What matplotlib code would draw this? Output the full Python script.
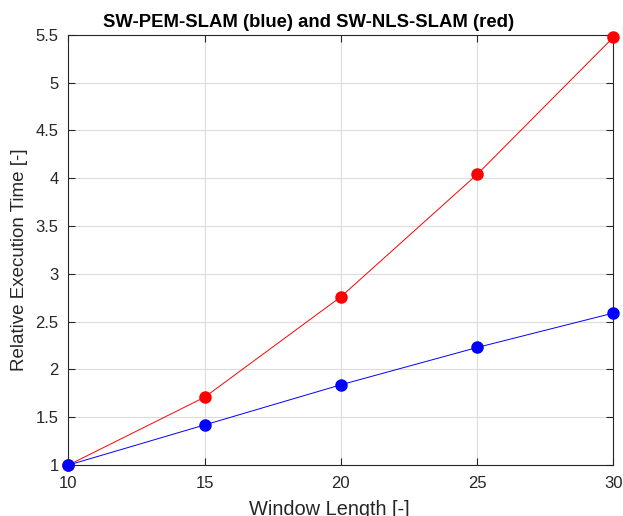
import matplotlib
matplotlib.use("Agg")
import matplotlib.pyplot as plt

window_length = [10, 15, 20, 25, 30]
pem_time = [1.0, 1.42, 1.84, 2.23, 2.59]
nls_time = [1.0, 1.71, 2.76, 4.04, 5.475]
x_ticks = [10, 15, 20, 25, 30]
y_ticks = [1, 1.5, 2, 2.5, 3, 3.5, 4, 4.5, 5, 5.5]
y_ticklabels = ["1", "1.5", "2", "2.5", "3", "3.5", "4", "4.5", "5", "5.5"]

plt.rcParams['font.family'] = ['Liberation Sans', 'DejaVu Sans']

fig = plt.figure(figsize=(6.23, 5.16), dpi=100)
ax = fig.add_axes([0.1096, 0.0986, 0.8751, 0.8341])

ax.plot(window_length, nls_time, '-o', color='red', lw=0.7, ms=8, clip_on=False, zorder=3)
ax.plot(window_length, pem_time, '-o', color='blue', lw=0.7, ms=8, clip_on=False, zorder=4)

ax.set_xlim(10, 30)
ax.set_ylim(1, 5.5)
ax.set_xticks(x_ticks)
ax.set_yticks(y_ticks)
ax.set_yticklabels(y_ticklabels)
ax.grid(True, color='#dcdcdc', lw=0.8)
ax.set_axisbelow(True)
ax.tick_params(direction='in', top=True, right=True, length=5, width=0.8,
               labelsize=12, colors='#262626')
ax.tick_params(axis='x', pad=8)
ax.tick_params(axis='y', pad=7)
for s in ax.spines.values():
    s.set_color('#262626')
    s.set_linewidth(0.8)

ax.set_xlabel('Window Length [-]', fontsize=14.4, color='#262626', labelpad=6.5)
ax.xaxis.label.set_x(0.478)
ax.set_ylabel('Relative Execution Time [-]', fontsize=13.5, color='#262626', labelpad=5)
ax.yaxis.label.set_y(0.478)
ax.set_title('SW-PEM-SLAM (blue) and SW-NLS-SLAM (red)', fontsize=13.3, fontweight='bold',
             pad=5.5, x=0.44)

fig.savefig('out.png', dpi=100)
